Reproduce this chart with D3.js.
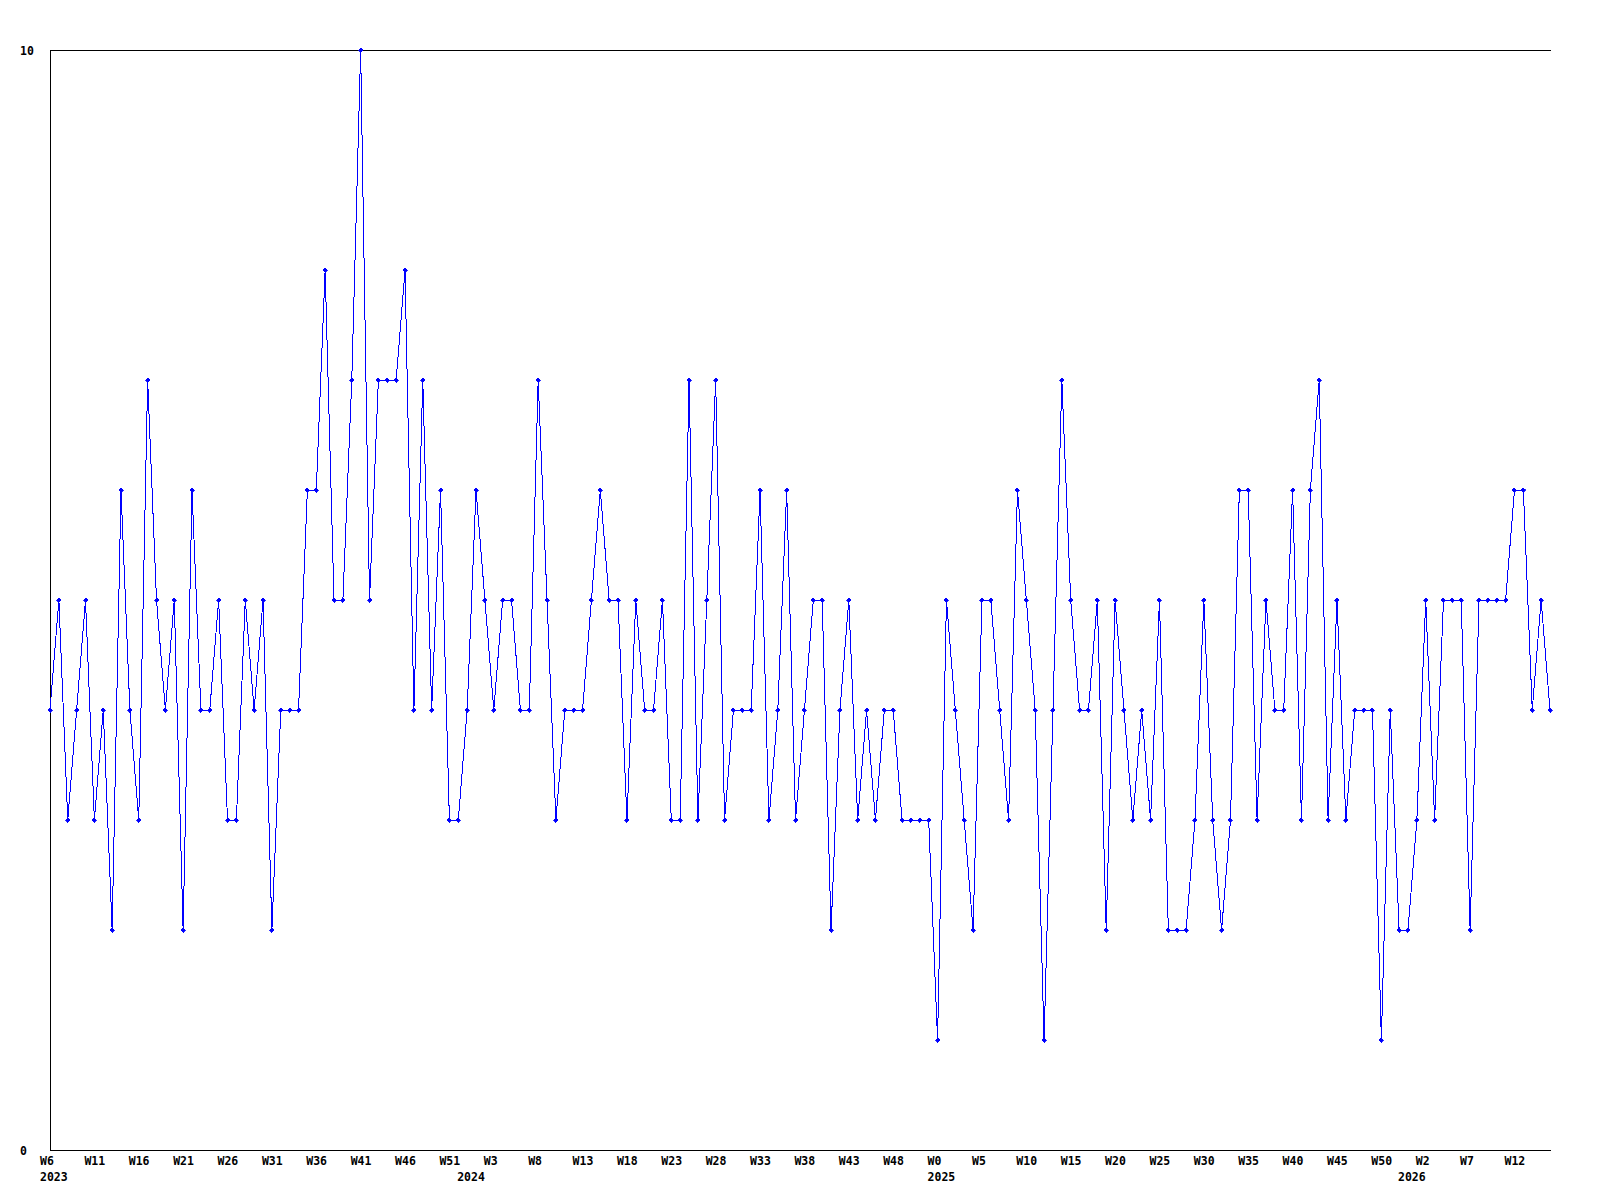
<!DOCTYPE html>
<html>
<head>
<meta charset="utf-8">
<script src="https://cdn.jsdelivr.net/npm/d3@7"></script>
<style>
  html, body { margin: 0; padding: 0; background: #ffffff; }
  svg { display: block; }
  text { font-family: "DejaVu Sans Mono", "Liberation Mono", monospace; font-weight: bold; font-size: 11.5px; fill: #000; }
</style>
</head>
<body>
<svg id="chart" width="1600" height="1200"></svg>
<script>
// ---- data ----
// weekly categories: each year span (first week, last week)
const yearSpans = [
  { year: 2023, first: 6, last: 52 },
  { year: 2024, first: 0, last: 52 },
  { year: 2025, first: 0, last: 52 },
  { year: 2026, first: 0, last: 16 }
];
const categories = [];
yearSpans.forEach(s => { for (let w = s.first; w <= s.last; w++) categories.push(s.year + " W" + w); });

const values = [
  4,5,3,4,5,3,4,2,6,4, 3,7,5,4,5,2,6,4,4,5,
  3,3,5,4,5,2,4,4,4,6, 6,8,5,5,7,10,5,7,7,7,
  8,4,7,4,6,3,3,4,6,5, 4,5,5,4,4,7,5,3,4,4,
  4,5,6,5,5,3,5,4,4,5, 3,3,7,3,5,7,3,4,4,4,
  6,3,4,6,3,4,5,5,2,4, 5,3,4,3,4,4,3,3,3,3,
  1,5,4,3,2,5,5,4,3,6, 5,4,1,4,7,5,4,4,5,2,
  5,4,3,4,3,5,2,2,2,3, 5,3,2,3,6,6,3,5,4,4,
  6,3,6,7,3,5,3,4,4,4, 1,4,2,2,3,5,3,5,5,5,
  2,5,5,5,5,6,6,4,5,4
];

const xTicks = [
  "2023 W6","2023 W11","2023 W16","2023 W21","2023 W26","2023 W31","2023 W36","2023 W41","2023 W46","2023 W51",
  "2024 W3","2024 W8","2024 W13","2024 W18","2024 W23","2024 W28","2024 W33","2024 W38","2024 W43","2024 W48",
  "2025 W0","2025 W5","2025 W10","2025 W15","2025 W20","2025 W25","2025 W30","2025 W35","2025 W40","2025 W45","2025 W50",
  "2026 W2","2026 W7","2026 W12"
];
const yearTicks = ["2023 W6", "2024 W0", "2025 W0", "2026 W0"];
const yTicks = [0, 10];

// ---- layout ----
const plotLeft = 50, plotRight = 1550, plotTop = 50, plotBottom = 1150;
const svg = d3.select("#chart");
svg.append("rect").attr("width", 1600).attr("height", 1200).attr("fill", "#fff");

const x = d3.scalePoint().domain(categories).range([plotLeft, plotRight]);
const y = d3.scaleLinear().domain([0, 10]).range([plotBottom, plotTop]);

// frame: left, top, bottom
const frame = svg.append("g").attr("stroke", "#000").attr("stroke-width", 1).attr("shape-rendering", "crispEdges");
frame.append("line").attr("x1", plotLeft + 0.5).attr("x2", plotLeft + 0.5).attr("y1", plotTop).attr("y2", plotBottom + 1);
frame.append("line").attr("x1", plotLeft).attr("x2", plotRight + 1).attr("y1", plotTop + 0.5).attr("y2", plotTop + 0.5);
frame.append("line").attr("x1", plotLeft).attr("x2", plotRight + 1).attr("y1", plotBottom + 0.5).attr("y2", plotBottom + 0.5);

// x axis: week labels
const xAxis = d3.axisBottom(x).tickValues(xTicks).tickSize(0).tickPadding(0)
  .tickFormat(d => d.split(" ")[1]);
const gx = svg.append("g").attr("transform", `translate(0,${plotBottom})`).call(xAxis);
gx.select(".domain").remove();
gx.selectAll("text").attr("text-anchor", "start").attr("dx", -10.5).attr("y", 15).attr("dy", 0);

// year labels
const yearAxis = d3.axisBottom(x).tickValues(yearTicks).tickSize(0).tickPadding(0)
  .tickFormat(d => d.split(" ")[0]);
const gyear = svg.append("g").attr("transform", `translate(0,${plotBottom})`).call(yearAxis);
gyear.select(".domain").remove();
gyear.selectAll("text").attr("text-anchor", "start").attr("dx", -10.5).attr("y", 31).attr("dy", 0);

// y axis labels
const yAxis = d3.axisLeft(y).tickValues(yTicks).tickSize(0).tickPadding(0);
const gy = svg.append("g").attr("transform", `translate(${plotLeft},0)`).call(yAxis);
gy.select(".domain").remove();
gy.selectAll("text").attr("text-anchor", "start").attr("x", -30).attr("dy", "0.36em");

// remove axis-group font overrides so CSS applies
svg.selectAll("g").attr("font-family", null).attr("font-size", null);

// line
const line = d3.line().x((d, i) => x(categories[i])).y(d => y(d));
svg.append("path").datum(values)
  .attr("d", line)
  .attr("fill", "none")
  .attr("stroke", "#0000ff")
  .attr("stroke-width", 1)
  .attr("shape-rendering", "crispEdges");

// markers (small filled diamonds)
const diamond = "M0,-2.5L2.5,0L0,2.5L-2.5,0Z";
svg.append("g").selectAll("path").data(values).join("path")
  .attr("transform", (d, i) => `translate(${x(categories[i])},${y(d)})`)
  .attr("d", diamond)
  .attr("fill", "#0000ff")
  .attr("stroke", "#0000ff")
  .attr("stroke-width", 0.8)
  .attr("shape-rendering", "crispEdges");
</script>
</body>
</html>
